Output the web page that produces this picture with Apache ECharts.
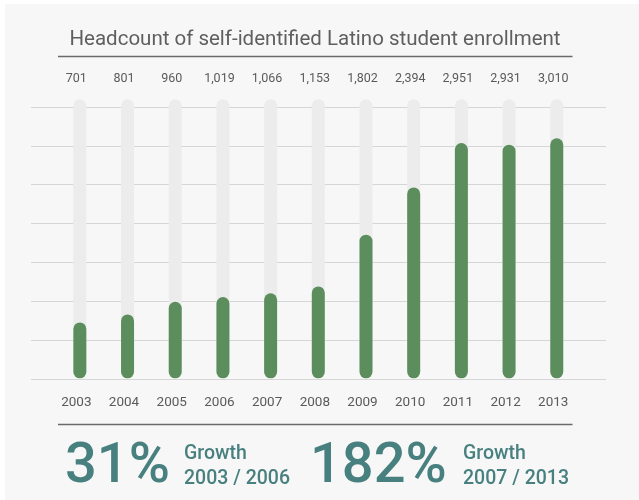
<!DOCTYPE html>
<html><head><meta charset="utf-8">
<script src="https://cdn.jsdelivr.net/npm/echarts@6/dist/echarts.min.js"></script>
<style>html,body{margin:0;padding:0;background:#fff;}#c{width:639px;height:500px;}</style>
</head><body><div id="c"></div>
<script>
var titleText = 'Headcount of self-identified Latino student enrollment';
var years = ['2003','2004','2005','2006','2007','2008','2009','2010','2011','2012','2013'];
var headcount = [701, 801, 960, 1019, 1066, 1153, 1802, 2394, 2951, 2931, 3010];
var gridTicks = [0, 500, 1000, 1500, 2000, 2500, 3000, 3500];
var growth1 = {pct: '31%', label: 'Growth', range: '2003 / 2006'};
var growth2 = {pct: '182%', label: 'Growth', range: '2007 / 2013'};

var FONT = 'Roboto';
var TEAL = '#47807f';
var GREY = '#5f5f5f';
var fmt = function (v) { return v.toLocaleString('en-US'); };

var chart = echarts.init(document.getElementById('c'), null, {renderer: 'canvas'});
chart.setOption({
  backgroundColor: '#ffffff',
  animation: false,
  title: {
    text: titleText, left: 310, top: 24, textAlign: 'center',
    textStyle: {fontFamily: FONT, fontSize: 20.5, fontWeight: 'normal', color: GREY}
  },
  graphic: [
    {type: 'rect', z: -10, shape: {x: 5, y: 4, width: 634, height: 496}, style: {fill: '#f7f7f7'}},
    {type: 'line', shape: {x1: 58, y1: 56.5, x2: 572.5, y2: 56.5}, style: {stroke: '#6a6a6a', lineWidth: 1.3}},
    {type: 'line', shape: {x1: 58, y1: 424.5, x2: 572.5, y2: 424.5}, style: {stroke: '#6a6a6a', lineWidth: 1.3}},
    {type: 'text', left: 65, top: 440, style: {text: growth1.pct, fontFamily: FONT, fontSize: 56, fontWeight: 500, fill: TEAL}},
    {type: 'text', left: 184, top: 444, style: {text: growth1.label, fontFamily: FONT, fontSize: 19.5, fontWeight: 500, fill: TEAL}},
    {type: 'text', left: 184, top: 469, style: {text: growth1.range, fontFamily: FONT, fontSize: 19.5, fontWeight: 500, fill: TEAL}},
    {type: 'text', left: 310, top: 440, style: {text: growth2.pct, fontFamily: FONT, fontSize: 56, fontWeight: 500, fill: TEAL}},
    {type: 'text', left: 463, top: 444, style: {text: growth2.label, fontFamily: FONT, fontSize: 19.5, fontWeight: 500, fill: TEAL}},
    {type: 'text', left: 463, top: 469, style: {text: growth2.range, fontFamily: FONT, fontSize: 19.5, fontWeight: 500, fill: TEAL}}
  ],
  grid: [
    {left: 31, top: 107, width: 575, height: 272},
    {left: 56, top: 99.3, width: 524.6, height: 279}
  ],
  xAxis: [
    {gridIndex: 0, type: 'value', show: false, min: 0, max: 1},
    {gridIndex: 1, type: 'category', data: years, position: 'bottom',
      axisLine: {show: false}, axisTick: {show: false},
      axisLabel: {margin: 17, fontFamily: FONT, fontSize: 13.5, color: '#5a5a5a', padding: [0, 7, 0, 0]}},
    {gridIndex: 1, type: 'category', data: headcount.map(fmt), position: 'top',
      axisLine: {show: false}, axisTick: {show: false},
      axisLabel: {margin: 13.5, fontFamily: FONT, fontSize: 12.5, color: '#5a5a5a', padding: [0, 7, 0, 0]}}
  ],
  yAxis: [
    {gridIndex: 0, type: 'value', min: gridTicks[0], max: gridTicks[gridTicks.length - 1], interval: gridTicks[1] - gridTicks[0],
      axisLabel: {show: false}, axisLine: {show: false}, axisTick: {show: false},
      splitLine: {show: true, lineStyle: {color: '#d6d6d6', width: 1}}},
    {gridIndex: 1, type: 'value', min: 0, max: 3500, show: false, splitLine: {show: false}}
  ],
  series: [
    {type: 'bar', xAxisIndex: 1, yAxisIndex: 1, data: headcount, barWidth: 13,
      showBackground: true,
      backgroundStyle: {color: '#ececec', borderRadius: 6.5},
      itemStyle: {color: '#5c8e5d', borderRadius: 6.5}}
  ]
});
</script></body></html>
